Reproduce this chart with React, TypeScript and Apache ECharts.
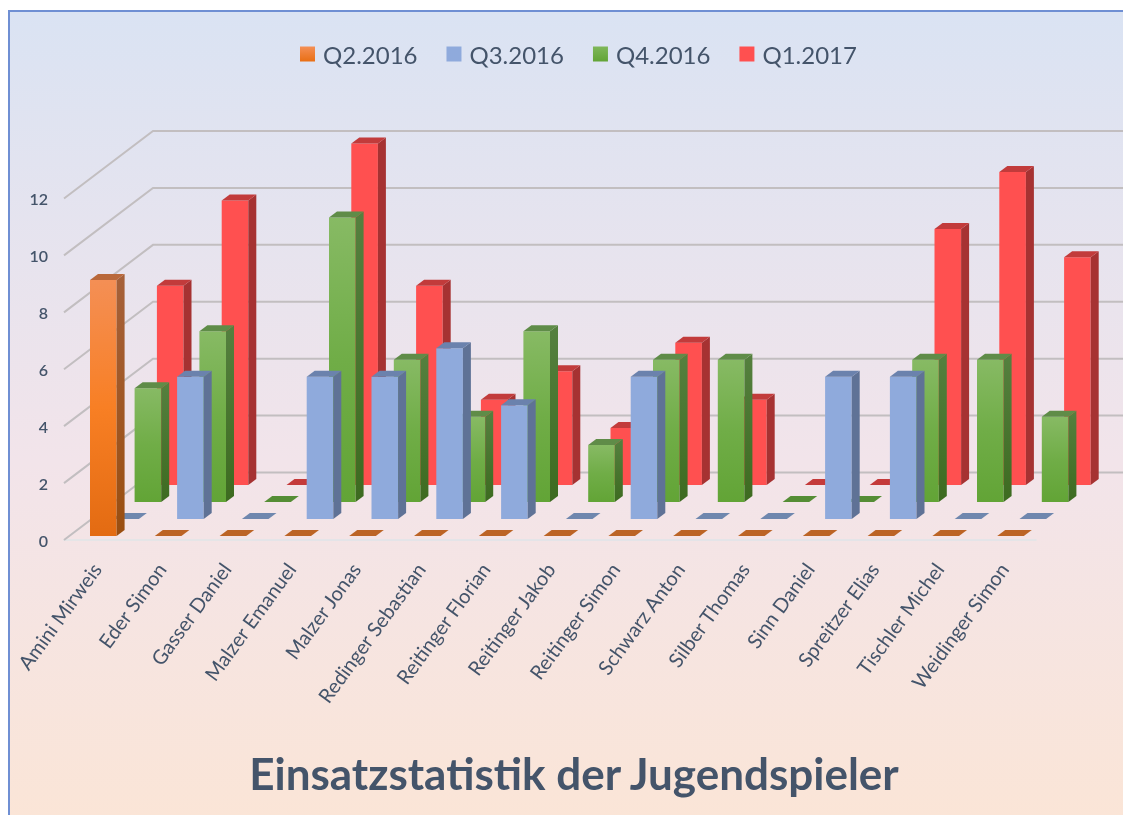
import React, { useEffect, useRef } from "react";
import * as echarts from "echarts";

const categories = ["Amini Mirweis","Eder Simon","Gasser Daniel","Malzer Emanuel","Malzer Jonas","Redinger Sebastian","Reitinger Florian","Reitinger Jakob","Reitinger Simon","Schwarz Anton","Silber Thomas","Sinn Daniel","Spreitzer Elias","Tischler Michel","Weidinger Simon"];
const q2 = [9,0,0,0,0,0,0,0,0,0,0,0,0,0,0];
const q3 = [0,5,0,5,5,6,4,0,5,0,0,5,5,0,0];
const q4 = [4,6,0,10,5,3,6,2,5,5,0,0,5,5,3];
const q1 = [7,10,0,12,7,3,4,2,5,3,0,0,9,11,8];
const yTicks = [0,2,4,6,8,10,12];

const TEXT = "#44546A";
const FONT = "Lato";
const LG = (stops: string[]) => new echarts.graphic.LinearGradient(0,0,0,1,stops.map((c,i)=>({offset:i/(stops.length-1),color:c})));

const styles = [
  { name:"Q2.2016", data:q2, row:0, front:["#F48F55","#F87F24","#E36B12"], side:["#A6613A","#9A4E10"], top:"#B9683A", zero:"#BC6425", legend:["#F48F55","#E96F14"] },
  { name:"Q3.2016", data:q3, row:1, front:["#8FAADC","#8FAADC"], side:["#5F7296","#5F7296"], top:"#6B82AD", zero:"#6F87AE", legend:["#8FAADC","#8FAADC"] },
  { name:"Q4.2016", data:q4, row:2, front:["#87BA64","#70AD47","#62A436"], side:["#55803F","#3D6B20"], top:"#5F8C48", zero:"#558D35", legend:["#7FB75A","#62A436"] },
  { name:"Q1.2017", data:q1, row:3, front:["#FF5050","#FF5050"], side:["#A63232","#A63232"], top:"#C23B3B", zero:"#C43A3A", legend:["#FF5050","#FF5050"] },
];

const BAR_W = 26.6, SIDE_X = 8, SIDE_Y = 6;
const ROW_X = 22.3, ROW_Y = 17, BASE_X = -6.4, BASE_Y = -4;
const WALL_X = 89, WALL_Y = -67.5;

export default function App() {
  const ref = useRef<HTMLDivElement>(null);
  useEffect(() => {
    const chart = echarts.init(ref.current!, undefined, { renderer: "svg" });
    const barSeries = styles.map((s) => ({
      type: "custom",
      name: s.name,
      coordinateSystem: "cartesian2d",
      z: 5 - s.row,
      silent: true,
      clip: false,
      itemStyle: { color: LG(s.legend) },
      encode: { x: 0, y: 1 },
      data: s.data.map((v, i) => [i, v]),
      renderItem: (_p: any, api: any) => {
        const i = api.value(0), v = api.value(1);
        const base = api.coord([i, 0]);
        const tip = api.coord([i, v]);
        const x0 = base[0] + BASE_X + ROW_X * s.row;
        const x1 = x0 + BAR_W;
        const yb = base[1] + BASE_Y - ROW_Y * s.row;
        const yt = tip[1] + BASE_Y - ROW_Y * s.row;
        const children: any[] = [];
        if (v > 0) {
          children.push({ type: "polygon", shape: { points: [[x0,yt],[x1,yt],[x1,yb],[x0,yb]] }, style: { fill: LG(s.front) } });
          children.push({ type: "polygon", shape: { points: [[x1,yt],[x1+SIDE_X,yt-SIDE_Y],[x1+SIDE_X,yb-SIDE_Y],[x1,yb]] }, style: { fill: LG(s.side) } });
        }
        children.push({ type: "polygon", shape: { points: [[x0,yt],[x1,yt],[x1+SIDE_X,yt-SIDE_Y],[x0+SIDE_X,yt-SIDE_Y]] }, style: { fill: v > 0 ? s.top : s.zero } });
        return { type: "group", children };
      },
    }));
    chart.setOption({
      animation: false,
      graphic: [
        {
          type: "rect", z: -10, silent: true,
          shape: { x: 9, y: 11, width: 1130, height: 820 },
          style: {
            fill: new echarts.graphic.LinearGradient(0,0,0,1,[{offset:0,color:"#DAE3F3"},{offset:0.55,color:"#F2E4EA"},{offset:1,color:"#FBE5D6"}]),
            stroke: "#6F8FD3", lineWidth: 2,
          },
        },
      ],
      title: {
        text: "Einsatzstatistik der Jugendspieler",
        left: 569, top: 746, textAlign: "center",
        textStyle: { fontFamily: FONT, fontSize: 44, fontWeight: "bold", color: "#44546A" },
      },
      legend: {
        data: styles.map((s) => s.name),
        left: 295, top: 37, icon: "rect", itemWidth: 15, itemHeight: 15, itemGap: 29,
        textStyle: { fontFamily: FONT, fontSize: 24, color: TEXT, padding: [0,0,0,3] },
      },
      grid: { left: 64, right: 87, top: 198.5, bottom: 275, containLabel: false },
      xAxis: {
        type: "category", data: categories, boundaryGap: true,
        axisTick: { show: false },
        axisLine: { show: true, lineStyle: { color: "#DFE5E8", width: 1.5 } },
        axisLabel: { interval: 0, rotate: 54, margin: 25, fontFamily: FONT, fontSize: 20, color: TEXT },
        splitLine: { show: false },
      },
      yAxis: {
        type: "value", min: 0, max: 12, interval: 2,
        axisLine: { show: false }, axisTick: { show: false }, splitLine: { show: false },
        axisLabel: { margin: 16, fontFamily: FONT, fontSize: 16, fontWeight: 600, color: TEXT },
      },
      series: [
        {
          type: "custom", name: "grid", coordinateSystem: "cartesian2d", z: 1, silent: true, clip: false,
          encode: { x: 0, y: 1 },
          data: yTicks.map((t) => [0, t]),
          renderItem: (_p: any, api: any) => {
            const c = api.coord([0, api.value(1)]);
            const left = c[0] - api.size([1, 0])[0] / 2;
            const bx = left + WALL_X, by = c[1] + WALL_Y;
            return {
              type: "polyline",
              shape: { points: [[left, c[1]], [bx, by], [1140, by]] },
              style: { fill: "none", stroke: "#C2BEC0", lineWidth: 2 },
            };
          },
        },
        ...barSeries,
      ],
    });
    return () => chart.dispose();
  }, []);
  return <div ref={ref} style={{ position: "fixed", left: 0, top: 0, width: 1123, height: 815, background: "#fff", filter: "blur(0.7px)" }} />;
}
